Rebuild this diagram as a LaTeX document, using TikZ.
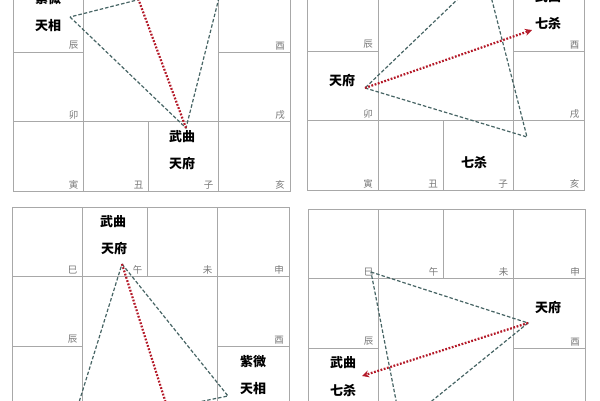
\documentclass[tikz,border=0pt]{standalone}
\usepackage{fontspec}
\setmainfont{Noto Sans CJK SC}
\usepackage{xcolor}
\usetikzlibrary{arrows.meta}

\definecolor{gridgray}{RGB}{168,168,168}
\definecolor{branchgray}{RGB}{120,120,120}
\definecolor{linkteal}{RGB}{70,100,100}
\definecolor{flyred}{RGB}{180,25,40}

% one chart: name, left, top (labels outside the page are left out)
\newcommand{\chartgrid}[3]{%
    \begin{scope}[shift={(#2,#3)}]
        \draw[gridline] (0,0) rectangle (277,278);
        \draw[gridline] (0,69.5) -- (277,69.5);
        \draw[gridline] (0,208.5) -- (277,208.5);
        \draw[gridline] (0,139) -- (70.5,139) (205.5,139) -- (277,139);
        \draw[gridline] (70.5,0) -- (70.5,278);
        \draw[gridline] (205.5,0) -- (205.5,278);
        \draw[gridline] (135.5,0) -- (135.5,69.5) (135.5,208.5) -- (135.5,278);
        \foreach \b/\cx/\cy [count=\i] in {巳/70.5/69.5, 午/135.5/69.5, 未/205.5/69.5, 申/277/69.5,
                酉/277/139, 戌/277/208.5, 亥/277/278, 子/205.5/278,
                丑/135.5/278, 寅/70.5/278, 卯/70.5/208.5, 辰/70.5/139}
            {\pgfmathsetmacro{\ly}{#3+\cy}
             \ifdim\ly pt>400pt\else\ifdim\ly pt<10pt\else
                \node[branch] (#1b\i) at (\cx-4,\cy-1) {\b};
             \fi\fi}
    \end{scope}}

\begin{document}
\begin{tikzpicture}[x=1pt, y=-1pt,
        gridline/.style={draw=gridgray, line width=1pt},
        branch/.style={anchor=south east, inner sep=1pt, text=branchgray, font=\fontsize{9.5}{10}\selectfont},
        star/.style={inner sep=0pt, font=\fontsize{13}{14}\selectfont\bfseries},
        link/.style={draw=linkteal, line width=1.2pt, dash pattern=on 3.5pt off 2pt},
        fly/.style={draw=flyred, line width=2.2pt, dash pattern=on 1.8pt off 1.6pt},
        flyarrow/.style={fly, -{Stealth[length=7pt,width=7pt]}}]

    \useasboundingbox[fill=white] (0,0) rectangle (600,400);
    \clip (0,0) rectangle (600,400);

    % Grids
    \chartgrid{g1}{13}{-87}
    \chartgrid{g2}{307.5}{-88}
    \chartgrid{g3}{12}{207}
    \chartgrid{g4}{308}{209}

    % Stars
    \node[star] (zw1) at (48,-1) {紫微};
    \node[star] (tx1) at (48,26) {天相};
    \node[star] (wq1) at (182,137) {武曲};
    \node[star] (tf1) at (182,164) {天府};

    \node[star] (wq2) at (548,-3) {武曲};
    \node[star] (qs2) at (548,24) {七杀};
    \node[star] (tf2) at (342,81) {天府};
    \node[star] (qz2) at (474,163) {七杀};

    \node[star] (wq3) at (113,222) {武曲};
    \node[star] (tf3) at (114,249) {天府};
    \node[star] (zw3) at (253,362) {紫微};
    \node[star] (tx3) at (253,389) {天相};

    \node[star] (tf4) at (548,308) {天府};
    \node[star] (wq4) at (343,363) {武曲};
    \node[star] (qs4) at (343,391) {七杀};

    % Corners of the triangles
    \coordinate (p1a) at (70,17);
    \coordinate (p1b) at (186,128);
    \coordinate (p1c) at (224,-22);
    \coordinate (p1d) at (132,-18);

    \coordinate (p2a) at (365,88);
    \coordinate (p2b) at (527,137);
    \coordinate (p2c) at (485,-27);
    \coordinate (p2d) at (532,30);

    \coordinate (p3a) at (122,264);
    \coordinate (p3b) at (228,396);
    \coordinate (p3c) at (71,428);
    \coordinate (p3d) at (175,432);

    \coordinate (p4a) at (371,272);
    \coordinate (p4b) at (528,323);
    \coordinate (p4c) at (401,426);
    \coordinate (p4d) at (362,376);

    % Triangles (dashed)
    \draw[link] (p1a) -- (p1b) -- (p1c) -- cycle;
    \draw[link] (p2a) -- (p2b) -- (p2c) -- cycle;
    \draw[link] (p3a) -- (p3b) -- (p3c) -- cycle;
    \draw[link] (p4a) -- (p4b) -- (p4c) -- cycle;

    % Opposite palace (red dotted)
    \draw[flyarrow] (p1b) -- (p1d);
    \draw[flyarrow] (p2a) -- (p2d);
    \draw[flyarrow] (p3a) -- (p3d);
    \draw[flyarrow] (p4b) -- (p4d);
\end{tikzpicture}
\end{document}
